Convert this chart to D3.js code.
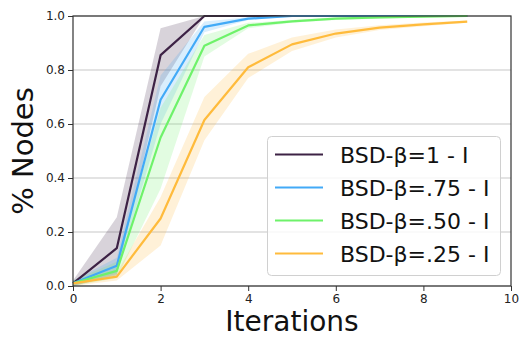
<!DOCTYPE html>
<html>
<head>
<meta charset="utf-8">
<script src="https://cdn.jsdelivr.net/npm/d3@7"></script>
<style>
  body { margin: 0; background: #fff; }
  svg { display: block; font-family: "DejaVu Sans", sans-serif; }
</style>
</head>
<body>
<svg id="chart" width="519" height="338"></svg>
<script>
// Iteration index
const iterations = [0, 1, 2, 3, 4, 5, 6, 7, 8, 9];

// Series labels and colours
const seriesNames = ["BSD-β=1 - I", "BSD-β=.75 - I", "BSD-β=.50 - I", "BSD-β=.25 - I"];
const seriesColors = ["#3d2245", "#42aaf7", "#6ef26a", "#ffbb3c"];

// Mean fraction of nodes reached per iteration
const meanB100 = [0.01, 0.14, 0.855, 1.0, 1.0, 1.0, 1.0, 1.0, 1.0, 1.0];
const meanB075 = [0.01, 0.075, 0.69, 0.96, 0.99, 1.0, 1.0, 1.0, 1.0, 1.0];
const meanB050 = [0.01, 0.056, 0.55, 0.89, 0.965, 0.98, 0.99, 0.995, 0.998, 1.0];
const meanB025 = [0.01, 0.035, 0.25, 0.615, 0.81, 0.895, 0.935, 0.957, 0.969, 0.979];

// Spread band (lower / upper)
const lowB100 = [0.0, 0.04, 0.74, 1.0, 1.0, 1.0, 1.0, 1.0, 1.0, 1.0];
const highB100 = [0.02, 0.255, 0.955, 1.0, 1.0, 1.0, 1.0, 1.0, 1.0, 1.0];
const lowB075 = [0.0, 0.045, 0.6, 0.94, 0.985, 1.0, 1.0, 1.0, 1.0, 1.0];
const highB075 = [0.02, 0.105, 0.78, 0.98, 0.995, 1.0, 1.0, 1.0, 1.0, 1.0];
const lowB050 = [0.0, 0.03, 0.36, 0.85, 0.955, 0.975, 0.985, 0.99, 0.995, 1.0];
const highB050 = [0.02, 0.09, 0.66, 0.93, 0.975, 0.985, 0.995, 1.0, 1.0, 1.0];
const lowB025 = [0.0, 0.02, 0.15, 0.54, 0.77, 0.87, 0.92, 0.948, 0.962, 0.975];
const highB025 = [0.02, 0.05, 0.33, 0.70, 0.86, 0.92, 0.95, 0.966, 0.976, 0.983];

const means = [meanB100, meanB075, meanB050, meanB025];
const lows = [lowB100, lowB075, lowB050, lowB025];
const highs = [highB100, highB075, highB050, highB025];

const xTicks = [0, 2, 4, 6, 8, 10];
const yTicks = [0.0, 0.2, 0.4, 0.6, 0.8, 1.0];

const margin = { left: 73, right: 8, top: 16, bottom: 52 };
const W = 519, H = 338;
const svg = d3.select("#chart");

const x = d3.scaleLinear().domain([0, 10]).range([margin.left, W - margin.right]);
const y = d3.scaleLinear().domain([0, 1]).range([H - margin.bottom, margin.top]);

// Horizontal grid
svg.append("g")
  .selectAll("line")
  .data(yTicks)
  .join("line")
  .attr("x1", x(0)).attr("x2", x(10))
  .attr("y1", d => y(d)).attr("y2", d => y(d))
  .attr("stroke", "#b0b0b0")
  .attr("stroke-opacity", 0.7)
  .attr("stroke-width", 1.2);

const plot = svg.append("g");

// Bands
means.forEach((m, i) => {
  const area = d3.area()
    .x((d, j) => x(iterations[j]))
    .y0((d, j) => y(lows[i][j]))
    .y1((d, j) => y(highs[i][j]));
  plot.append("path")
    .datum(m)
    .attr("d", area)
    .attr("fill", seriesColors[i])
    .attr("fill-opacity", 0.2);
});

// Mean lines
means.forEach((m, i) => {
  const line = d3.line()
    .x((d, j) => x(iterations[j]))
    .y(d => y(d));
  plot.append("path")
    .datum(m)
    .attr("d", line)
    .attr("fill", "none")
    .attr("stroke", seriesColors[i])
    .attr("stroke-width", 2.2)
    .attr("stroke-linejoin", "round");
});

// Axes
const xAxis = svg.append("g")
  .attr("transform", `translate(0,${y(0)})`)
  .call(d3.axisBottom(x).tickValues(xTicks).tickFormat(d3.format("d")).tickSize(5).tickPadding(3));
const yAxis = svg.append("g")
  .attr("transform", `translate(${x(0)},0)`)
  .call(d3.axisLeft(y).tickValues(yTicks).tickFormat(d3.format(".1f")).tickSize(5).tickPadding(3));
[xAxis, yAxis].forEach(a => {
  a.selectAll("text").attr("font-size", 12).attr("fill", "#222").attr("font-family", "DejaVu Sans");
  a.selectAll("line").attr("stroke", "#333");
  a.select(".domain").remove();
});

// Frame
svg.append("rect")
  .attr("x", x(0)).attr("y", y(1))
  .attr("width", x(10) - x(0)).attr("height", y(0) - y(1))
  .attr("fill", "none")
  .attr("stroke", "#333")
  .attr("stroke-width", 1.2);

// Axis titles
svg.append("text")
  .attr("x", (x(0) + x(10)) / 2)
  .attr("y", 331)
  .attr("text-anchor", "middle")
  .attr("font-size", 28)
  .attr("fill", "#111")
  .text("Iterations");
svg.append("text")
  .attr("transform", `translate(33,${(y(0) + y(1)) / 2}) rotate(-90)`)
  .attr("text-anchor", "middle")
  .attr("font-size", 29)
  .attr("fill", "#111")
  .text("% Nodes");

// Legend
const legend = svg.append("g");
legend.append("rect")
  .attr("x", 267.5).attr("y", 136.5)
  .attr("width", 233).attr("height", 139)
  .attr("rx", 4)
  .attr("fill", "#fff").attr("fill-opacity", 0.8)
  .attr("stroke", "#d0d0d0");
seriesNames.forEach((name, i) => {
  const cy = 154.5 + i * 33;
  legend.append("line")
    .attr("x1", 275).attr("x2", 323)
    .attr("y1", cy).attr("y2", cy)
    .attr("stroke", seriesColors[i])
    .attr("stroke-width", 2.2);
  legend.append("text")
    .attr("x", 340).attr("y", cy + 8)
    .attr("font-size", 22)
    .attr("fill", "#111")
    .text(name);
});
</script>
</body>
</html>
